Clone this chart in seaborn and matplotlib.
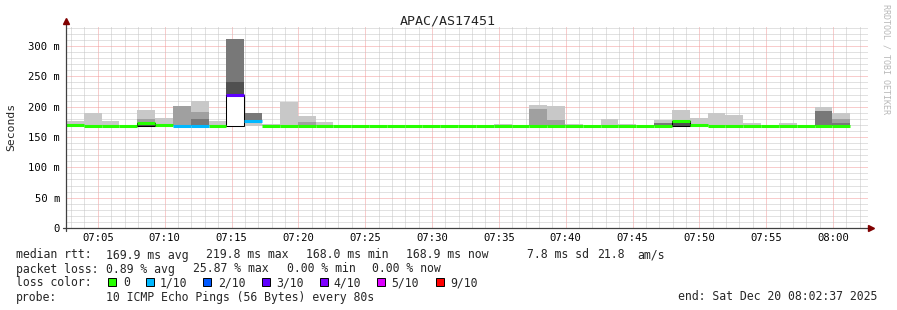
import numpy as np
import pandas as pd
import matplotlib
matplotlib.use("Agg")
import matplotlib.pyplot as plt
import seaborn as sns
from matplotlib.patches import Rectangle

nan = np.nan

# ---------------- data ----------------
title = "APAC/AS17451"
start_time = "07:02:37"        # first bin start
step_seconds = 80              # one bin per probe round
x_tick_labels = ["07:05", "07:10", "07:15", "07:20", "07:25", "07:30",
                 "07:35", "07:40", "07:45", "07:50", "07:55", "08:00"]
y_tick_values = [0, 50, 100, 150, 200, 250, 300]
y_tick_labels = ["0", "50 m", "100 m", "150 m", "200 m", "250 m", "300 m"]

# median rtt per bin (ms)
median_ms = [169.0, 168.2, 168.2, 168.4, 173.0, 170.5, 168.0, 168.1, 168.2, 219.8,
             176.0, 168.2, 168.2, 168.2, 168.2, 168.2, 168.2, 168.2, 168.2, 168.2,
             168.2, 168.2, 168.2, 168.2, 168.0, 168.2, 168.2, 168.2, 168.2, 168.2,
             168.2, 168.2, 168.2, 168.4, 176.0, 170.0, 168.2, 168.2, 168.2, 168.2,
             168.2, 168.2, 168.2, 168.9]
# packet loss per bin (%)
loss_pct = [0, 0, 0, 0, 0, 0, 3.75, 5.0, 0, 25.87,
            4.6, 0, 0, 0, 0, 0, 0, 0, 0, 0,
            0, 0, 0, 0, 0, 0, 0, 0, 0, 0,
            0, 0, 0, 0, 0, 0, 0, 0, 0, 0,
            0, 0, 0, 0]
# smoke layers (ms): bottom and tops of each grey shade
smoke_lo = [167.5] * 9 + [212.0] + [167.5] * 34
light_hi = [176, 189.5, 176, nan, 194.5, 181, nan, 209, 176, nan,
            189.5, 171, 208, 184.6, 175, nan, nan, nan, nan, nan,
            nan, nan, nan, nan, 171.4, nan, 202.7, 201, 171.4, nan,
            179.6, 171.4, nan, 178, 194.5, 181, 189.5, 186, 173, nan,
            173, nan, 199.5, 189.5]
mid_hi = [nan, nan, nan, nan, 180, nan, 201, 192, nan, nan,
          nan, nan, nan, 175, nan, nan, nan, nan, nan, nan,
          nan, nan, nan, nan, nan, nan, 196, 178, nan, nan,
          nan, nan, nan, 172, nan, nan, nan, nan, nan, nan,
          nan, nan, nan, 180]
dark_lo = [167.5] * 9 + [212.0, 173.0] + [167.5] * 33
dark_hi = [171, nan, nan, nan, nan, nan, nan, 180, nan, 311.5,
           189.5, nan, nan, nan, nan, nan, nan, nan, nan, nan,
           nan, nan, nan, nan, nan, nan, nan, nan, nan, nan,
           nan, nan, nan, 173.5, nan, nan, nan, nan, nan, nan,
           nan, nan, 193, 173]
deep_hi = [nan] * 9 + [240.0] + [nan] * 34
box_bins = [4, 9, 34]
box_fill = ["#505050", "#ffffff", "#505050"]

loss_keys = [0, 1, 2, 3, 4, 5, 9]
loss_names = ["0", "1/10", "2/10", "3/10", "4/10", "5/10", "9/10"]
loss_colors = ["#26ff00", "#00b8ff", "#0059ff", "#5e00ff", "#7e00ff", "#dd00ff", "#ff0000"]

# ---------------- figure ----------------
sns.set_style("white")
plt.rcParams['font.family'] = ['DejaVu Sans Mono', 'DejaVu Sans']

W, H = 897, 310
fig = plt.figure(figsize=(W / 100, H / 100), dpi=100)
ax = fig.add_axes([66 / W, (H - 228) / H, 802 / W, (228 - 26) / H])

def to_min(s):
    p = [int(v) for v in s.split(":")]
    sec = p[2] if len(p) > 2 else 0
    return (p[0] - 7) * 60 + p[1] + sec / 60

N = len(median_ms)
t0 = to_min(start_time)
bw = step_seconds / 60
bin_x = t0 + np.arange(N) * bw

def layer(lo, hi, color, z):
    lo = np.asarray(lo, float)
    hi = np.asarray(hi, float)
    m = ~np.isnan(hi)
    ax.bar(bin_x[m], hi[m] - lo[m], bottom=lo[m], width=bw, align="edge",
           color=color, linewidth=0, zorder=z)

layer(smoke_lo, light_hi, "#c8c8c8", 2)
layer(smoke_lo, mid_hi, "#a0a0a0", 2.1)
layer(dark_lo, dark_hi, "#787878", 2.2)
layer(smoke_lo, deep_hi, "#505050", 2.3)

# black boxes
for b, fc in zip(box_bins, box_fill):
    ax.bar([bin_x[b]], [median_ms[b] - 167.5], bottom=167.5, width=bw, align="edge",
           facecolor=fc, edgecolor="black", linewidth=0.75, zorder=3)

# median line coloured by loss
def loss_key(p):
    c = p / 10.0
    for k in loss_keys:
        if c <= k:
            return str(k)
    return str(loss_keys[-1])

rows = []
for i in range(N):
    if np.isnan(median_ms[i]):
        continue
    k = loss_key(loss_pct[i])
    rows.append((bin_x[i], median_ms[i], i, k))
    rows.append((bin_x[i] + bw, median_ms[i], i, k))
df = pd.DataFrame(rows, columns=["t", "ms", "seg", "key"])
pal = {str(k): c for k, c in zip(loss_keys, loss_colors)}
sns.lineplot(data=df, x="t", y="ms", hue="key", units="seg", estimator=None,
             palette=pal, linewidth=2.2, legend=False, ax=ax, zorder=4,
             solid_capstyle="butt")

# axes / grid
ax.set_xlim(t0, t0 + 60)
ax.set_ylim(0, 333)
ax.set_xticks([to_min(s) for s in x_tick_labels])
ax.set_xticklabels(x_tick_labels)
ax.set_xticks(np.arange(3, 63, 1), minor=True)
ax.set_yticks(y_tick_values)
ax.set_yticklabels(y_tick_labels)
ax.set_yticks(np.arange(0, 331, 10), minor=True)
ax.grid(True, which="major", color="#f29a9a", linestyle=(0, (1, 1)), linewidth=0.72)
ax.grid(True, which="minor", color="#c4c4c4", linestyle=(0, (1, 1)), linewidth=0.72)
ax.set_axisbelow(True)
ax.tick_params(which="both", length=0, labelsize=7.6, colors="#000000")
ax.tick_params(axis="y", pad=4.3)
ax.tick_params(axis="x", pad=3.5)
ax.set_xlabel("")
ax.set_ylabel("")
for s in ax.spines.values():
    s.set_visible(False)
ax.set_facecolor("white")

# axis lines with arrows
ax.plot([0, 0], [-0.015, 1.02], transform=ax.transAxes, color="#404040", lw=0.9, clip_on=False, zorder=5)
ax.plot([-0.004, 1.004], [0, 0], transform=ax.transAxes, color="#404040", lw=0.9, clip_on=False, zorder=5)
ax.plot([0], [1.025], marker="^", markersize=4.5, color="#800000", transform=ax.transAxes, clip_on=False, zorder=6)
ax.plot([1.004], [0], marker=">", markersize=4.5, color="#800000", transform=ax.transAxes, clip_on=False, zorder=6)

# texts
fig.text(448 / W, 1 - 24 / H, title, ha="center", va="baseline", fontsize=9.6)
fig.text(11 / W, 1 - 127 / H, "Seconds", rotation=90, ha="center", va="center", fontsize=8.2)
fig.text(886 / W, 1 - 4 / H, "RRDTOOL / TOBI OETIKER", rotation=270, ha="center", va="top",
         fontsize=6, color="#b8b8b8")

fs = 8.3
def t(x, yb, s):
    fig.text(x / W, 1 - yb / H, s, ha="left", va="baseline", fontsize=fs)

t(16, 258.5, "median rtt:")
for x, s in zip([106, 206, 306, 406, 527, 597, 637],
                ["169.9 ms avg", "219.8 ms max", "168.0 ms min", "168.9 ms now",
                 "7.8 ms sd", "21.8", "am/s"]):
    t(x, 258.5, s)
t(16, 272.5, "packet loss:")
for x, s in zip([106, 193, 287, 372],
                ["0.89 % avg", "25.87 % max", "0.00 % min", "0.00 % now"]):
    t(x, 272.5, s)
t(16, 286.5, "loss color:")
for sx, lx, name, c in zip([108, 146, 203, 262, 320, 377, 436],
                           [123, 160, 218, 276, 333, 391, 450],
                           loss_names, loss_colors):
    fig.patches.append(Rectangle((sx / W, 1 - 285.5 / H), 8 / W, 8 / H,
                                 transform=fig.transFigure, facecolor=c,
                                 edgecolor="black", linewidth=0.7))
    t(lx, 286.5, name)
t(16, 300.5, "probe:")
t(106, 300.5, "10 ICMP Echo Pings (56 Bytes) every 80s")
t(678, 300.5, "end: Sat Dec 20 08:02:37 2025")

fig.savefig("out.png", dpi=100, facecolor="white")
